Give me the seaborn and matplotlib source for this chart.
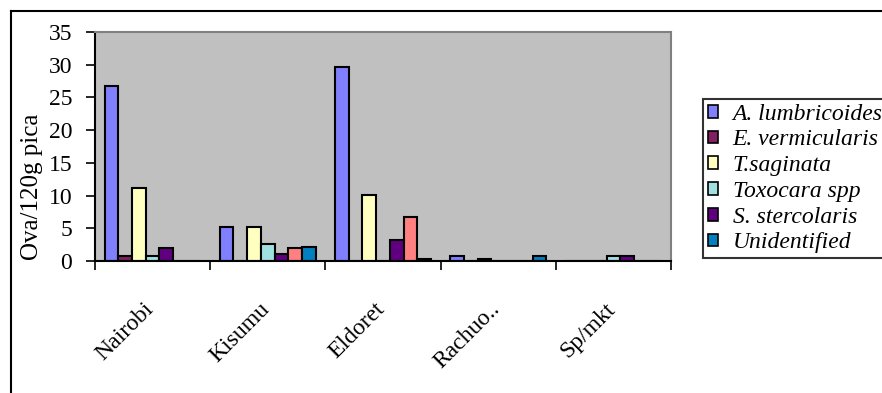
import numpy as np
import pandas as pd
import seaborn as sns
import matplotlib.pyplot as plt
from matplotlib.patches import Patch
from matplotlib.lines import Line2D
import matplotlib.transforms as mtransforms

# Sites and helminth ova counts (ova per 120 g of pica)
sites = ["Nairobi", "Kisumu", "Eldoret", "Rachuo..", "Sp/mkt"]
a_lumbricoides = [26.7, 5.2, 29.7, 0.8, 0.0]
e_vermicularis = [0.7, 0.0, 0.0, 0.0, 0.0]
t_saginata = [11.2, 5.2, 10.1, 0.3, 0.0]
toxocara_spp = [0.7, 2.6, 0.0, 0.0, 0.8]
s_stercolaris = [2.0, 1.0, 3.2, 0.0, 0.8]
other_ova = [0.0, 2.0, 6.7, 0.0, 0.0]
unidentified = [0.0, 2.2, 0.3, 0.8, 0.0]

series_names = ["A. lumbricoides", "E. vermicularis", "T.saginata",
                "Toxocara spp", "S. stercolaris", "Other", "Unidentified"]
series_values = [a_lumbricoides, e_vermicularis, t_saginata, toxocara_spp,
                 s_stercolaris, other_ova, unidentified]
colors = ["#8080FF", "#802060", "#FFFFC0", "#A0E0E0", "#600080", "#FF8080", "#0080C0"]
legend_names = ["A. lumbricoides", "E. vermicularis", "T.saginata",
                "Toxocara spp", "S. stercolaris", "Unidentified"]

df = pd.DataFrame(
    [(s, n, v) for n, vals in zip(series_names, series_values) for s, v in zip(sites, vals)],
    columns=["site", "species", "ova"],
)

W, H = 882, 393
fig = plt.figure(figsize=(W / 100, H / 100), dpi=100)
serif = ["Liberation Serif", "DejaVu Serif"]
plt.rcParams["font.family"] = serif

ax = fig.add_axes([95 / W, (H - 261) / H, (671 - 95) / W, (261 - 32) / H])
ax.set_facecolor("#C0C0C0")

sns.barplot(data=df, x="site", y="ova", hue="species", hue_order=series_names,
            order=sites, palette=colors, width=0.834, gap=0, edgecolor="black",
            linewidth=1.5, legend=False, ax=ax, errorbar=None, saturation=1)

ax.set_xlim(-0.5, len(sites) - 0.5)
ax.set_ylim(0, 35)
ax.set_yticks(np.arange(0, 36, 5))
ax.tick_params(axis="y", direction="out", length=6.5, width=1.2, pad=10, labelsize=17,
               color="black")
for lab in ax.get_yticklabels():
    lab.set_fontfamily(serif)

# Category boundaries carry the tick marks, centres carry the labels
ax.set_xticks(np.arange(-0.5, len(sites), 1.0))
ax.set_xticklabels([])
ax.tick_params(axis="x", which="major", direction="out", length=6.5, width=1.2)
ax.set_xticks(np.arange(len(sites)), minor=True)
ax.set_xticklabels(sites, minor=True, rotation=45, ha="right",
                   rotation_mode="anchor", fontsize=17, fontfamily=serif)
ax.tick_params(axis="x", which="minor", length=0, pad=27)
offset = mtransforms.ScaledTranslation(-9 / 100, 0, fig.dpi_scale_trans)
for lab in ax.get_xticklabels(minor=True):
    lab.set_transform(lab.get_transform() + offset)

ax.set_xlabel("")
ax.set_ylabel("")
for side in ["left", "bottom"]:
    ax.spines[side].set_color("black")
    ax.spines[side].set_linewidth(1.5)
for side in ["top", "right"]:
    ax.spines[side].set_color("#808080")
    ax.spines[side].set_linewidth(1.5)

fig.text(32 / W, 1 - 187 / H, "Ova/120g pica", rotation=90, ha="center", va="center",
         fontsize=18, fontfamily=serif)

handles = [Patch(facecolor=colors[series_names.index(n)], edgecolor="black", linewidth=1.2)
           for n in legend_names]
leg = fig.legend(handles, legend_names, loc="upper left",
                 bbox_to_anchor=(703 / W, 1 - 99 / H), frameon=True, fancybox=False,
                 edgecolor="black", handlelength=0.45, handleheight=0.45, handletextpad=0.6,
                 labelspacing=0.2, borderpad=0.2, borderaxespad=0,
                 prop={"family": serif, "style": "italic", "size": 17})
leg.get_frame().set_linewidth(1.5)

# Outer chart frame
fig.add_artist(Line2D([11 / W, 11 / W], [0, 1 - 11 / H], color="black", lw=1.5,
                      transform=fig.transFigure))
fig.add_artist(Line2D([11 / W, 1], [1 - 11 / H, 1 - 11 / H], color="black", lw=1.5,
                      transform=fig.transFigure))

fig.savefig("out.png", dpi=100)
